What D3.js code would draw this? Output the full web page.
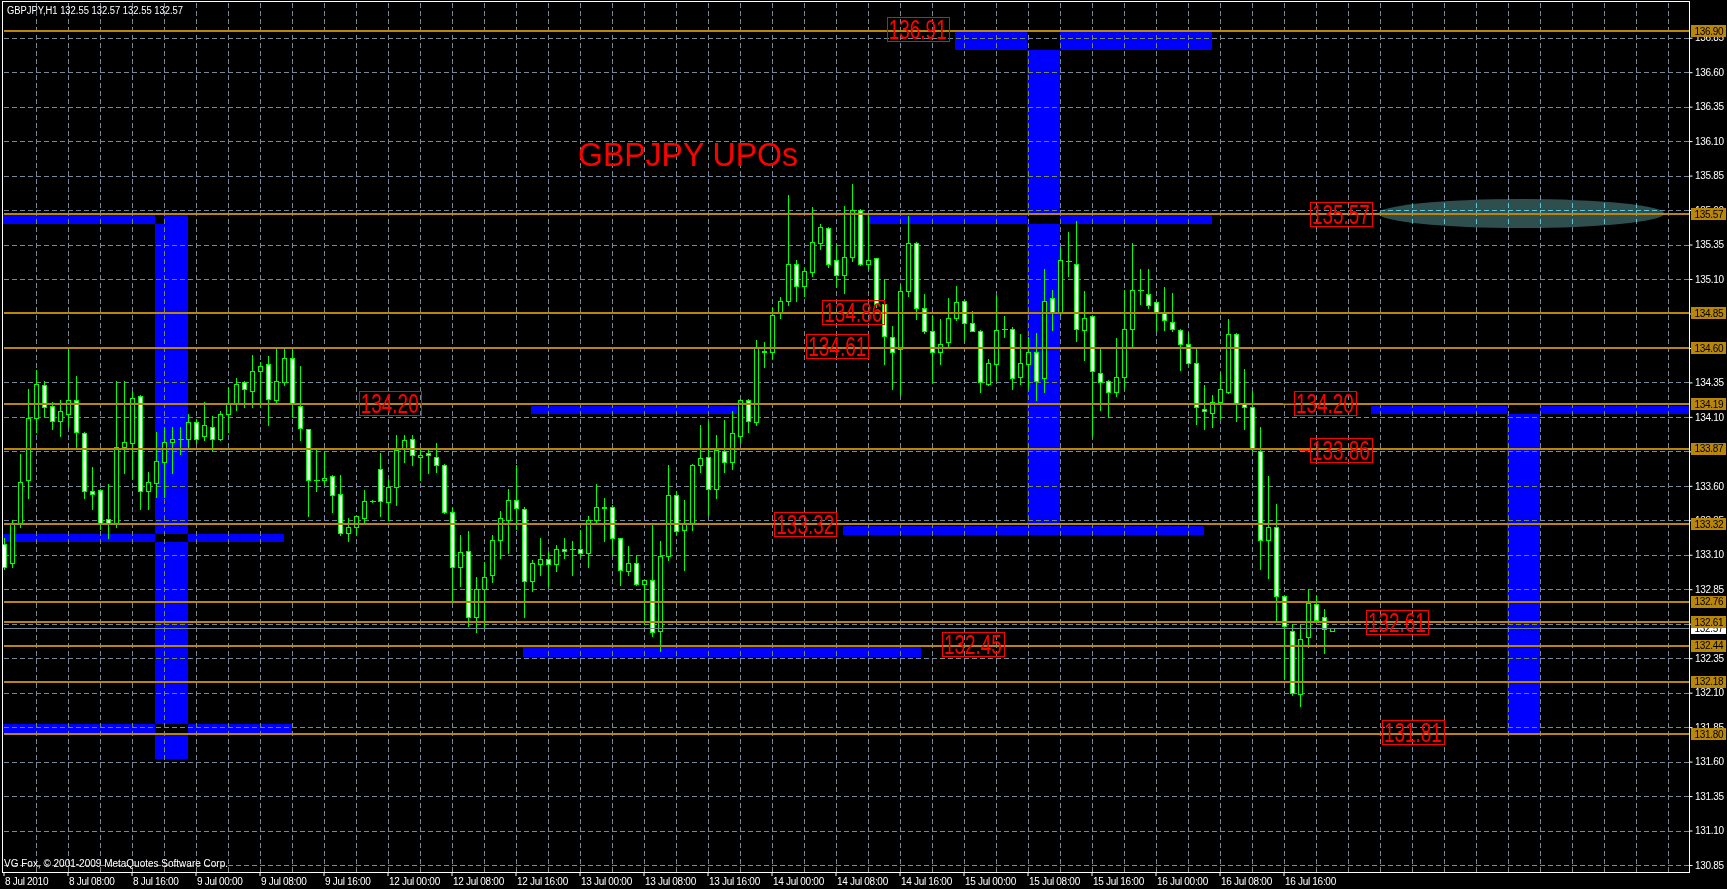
<!DOCTYPE html>
<html><head><meta charset="utf-8">
<script src="https://cdn.jsdelivr.net/npm/d3@7"></script>
<style>
html,body{margin:0;padding:0;background:#000;overflow:hidden}
svg{display:block}
</style></head><body>
<svg id="chart" width="1727" height="889"></svg>
<script>
// ---------------- DATA ----------------
const headerText = "GBPJPY,H1  132.55 132.57 132.55 132.57";
const titleText = "GBPJPY UPOs";
const copyrightText = "VG Fox, \u00A9 2001-2009 MetaQuotes Software Corp.";

// hourly candles, 8 Jul 2010 00:00 .. 16 Jul 2010 22:00 (weekend skipped)
const open = [133.18,133.04,133.33,133.64,134.09,134.33,134.18,134.07,134.12,134.22,
133.98,133.56,133.57,133.36,133.33,133.88,133.91,134.25,133.56,133.62,
133.77,133.92,133.94,133.94,134.06,133.96,134.03,133.94,134.12,134.20,
134.35,134.29,134.43,134.48,134.22,134.35,134.53,134.18,134.01,133.64,
133.64,133.67,133.54,133.26,133.30,133.37,133.49,133.72,133.48,133.59,
133.87,133.94,133.81,133.84,133.81,133.75,133.41,133.01,133.13,132.65,
132.85,132.95,133.21,133.35,133.50,133.43,132.91,133.03,133.07,133.03,
133.14,133.14,133.14,133.11,133.35,133.44,133.45,133.22,132.98,133.04,
132.89,132.92,132.55,133.09,133.53,133.28,133.32,133.75,133.81,133.58,
133.85,133.77,133.96,134.22,134.06,134.57,134.57,134.86,134.94,135.21,
135.05,135.15,135.36,135.47,135.24,135.13,135.26,135.60,135.21,135.25,
134.92,134.68,134.59,135.01,135.36,134.89,134.72,134.57,134.64,134.82,
134.94,134.78,134.72,134.34,134.48,134.74,134.74,134.39,134.48,134.57,
134.38,134.96,134.86,135.23,135.21,134.73,134.83,134.42,134.36,134.28,
134.39,134.74,135.02,134.99,134.93,134.86,134.79,134.73,134.63,134.49,
134.16,134.13,134.21,134.28,134.70,134.20,134.17,133.85,133.21,133.30,
132.80,132.55,132.09,132.50,132.74,132.65,132.55];
const high = [133.22,133.35,133.83,134.30,134.44,134.36,134.21,134.22,134.59,134.40,
133.99,133.74,133.58,133.61,134.36,134.36,134.28,134.26,133.70,133.99,
134.03,134.03,134.03,134.12,134.08,134.21,134.11,134.14,134.32,134.38,
134.36,134.55,134.50,134.54,134.59,134.60,134.59,134.47,134.01,133.86,
133.85,133.68,133.68,133.37,133.38,133.57,133.50,133.84,133.64,133.97,
133.97,133.97,133.86,133.86,133.91,133.76,133.44,133.24,133.27,132.94,
133.05,133.24,133.42,133.58,133.75,133.45,133.06,133.22,133.12,133.17,
133.22,133.20,133.28,133.38,133.61,133.51,133.46,133.22,133.16,133.09,
132.92,133.32,133.20,133.75,133.56,133.50,133.76,134.04,134.06,133.97,
134.08,134.14,134.23,134.23,134.66,134.64,134.89,134.97,135.71,135.24,
135.18,135.62,135.50,135.48,135.35,135.63,135.79,135.61,135.56,135.25,
135.10,134.76,135.06,135.56,135.37,134.99,134.84,134.81,134.96,135.05,
134.95,134.87,134.73,134.52,134.98,134.83,134.75,134.70,134.68,134.71,
135.17,135.02,135.33,135.44,135.52,135.01,134.84,134.59,134.37,134.67,
135.02,135.36,135.17,135.17,134.94,135.04,135.00,134.74,134.71,134.59,
134.33,134.26,134.42,134.81,134.71,134.45,134.28,134.03,133.67,133.47,
132.81,132.60,132.59,132.85,132.80,132.71,132.57];
const low = [133.00,133.01,133.30,133.51,133.99,134.11,134.01,133.96,134.03,133.87,
133.51,133.43,133.29,133.22,133.30,133.69,133.65,133.43,133.43,133.52,
133.52,133.69,133.83,133.87,133.91,133.93,133.85,133.93,133.99,134.15,
134.17,134.17,134.18,134.04,134.20,134.33,134.11,133.93,133.38,133.56,
133.61,133.41,133.24,133.20,133.24,133.33,133.48,133.38,133.35,133.46,
133.77,133.75,133.64,133.69,133.70,133.40,132.77,132.87,132.58,132.54,
132.57,132.90,133.08,133.11,133.29,132.65,132.84,132.95,132.87,132.98,
133.08,132.95,133.09,133.01,133.33,133.20,133.10,132.88,132.95,132.88,
132.60,132.51,132.40,133.06,133.25,132.99,133.28,133.70,133.39,133.51,
133.70,133.72,133.92,133.99,134.04,134.46,134.53,134.82,134.91,134.94,
134.98,135.12,135.32,135.19,135.04,135.00,135.23,135.20,135.17,134.90,
134.48,134.30,134.26,134.98,134.81,134.71,134.35,134.48,134.61,134.80,
134.65,134.72,134.28,134.33,134.37,134.68,134.30,134.34,134.30,134.22,
134.28,134.73,134.84,135.12,134.65,134.51,133.96,134.15,134.10,134.25,
134.30,134.61,134.92,134.89,134.73,134.73,134.72,134.44,134.48,134.05,
134.01,134.03,134.09,134.27,134.07,134.01,133.86,133.00,132.93,132.63,
132.20,132.08,132.00,132.43,132.62,132.39,132.55];
const close = [133.01,133.33,133.63,134.09,134.34,134.17,134.07,134.14,134.22,133.99,
133.56,133.54,133.33,133.33,133.88,133.92,134.24,133.56,133.63,133.78,
133.92,133.94,133.94,134.06,133.94,134.04,133.94,134.12,134.20,134.34,
134.30,134.43,134.47,134.23,134.36,134.53,134.19,134.02,133.64,133.64,
133.66,133.53,133.26,133.30,133.38,133.49,133.49,133.49,133.59,133.86,
133.93,133.82,133.82,133.82,133.75,133.41,133.01,133.12,132.65,132.85,
132.94,133.21,133.37,133.50,133.44,132.91,133.04,133.07,133.03,133.14,
133.13,133.14,133.11,133.35,133.45,133.45,133.22,132.99,133.04,132.89,
132.92,132.54,133.09,133.53,133.27,133.32,133.75,133.80,133.58,133.86,
133.77,133.98,134.22,134.07,134.60,134.58,134.84,134.94,135.21,135.05,
135.16,135.37,135.48,135.21,135.13,135.26,135.60,135.21,135.24,134.92,
134.69,134.57,135.01,135.36,134.89,134.72,134.57,134.63,134.82,134.93,
134.78,134.72,134.35,134.49,134.73,134.74,134.38,134.49,134.57,134.36,
134.94,134.86,135.24,135.23,134.74,134.82,134.43,134.35,134.28,134.39,
134.74,135.02,135.02,134.91,134.86,134.80,134.74,134.63,134.49,134.17,
134.14,134.21,134.30,134.70,134.20,134.17,133.87,133.21,133.30,132.80,
132.58,132.10,132.49,132.75,132.63,132.56,132.57];

// time axis
const timeTickBars = [0,8,16,24,32,40,48,56,64,72,80,88,96,104,112,120,128,136,144,152,160];
const timeTickLabels = ["8 Jul 2010","8 Jul 08:00","8 Jul 16:00","9 Jul 00:00","9 Jul 08:00","9 Jul 16:00",
"12 Jul 00:00","12 Jul 08:00","12 Jul 16:00","13 Jul 00:00","13 Jul 08:00","13 Jul 16:00",
"14 Jul 00:00","14 Jul 08:00","14 Jul 16:00","15 Jul 00:00","15 Jul 08:00","15 Jul 16:00",
"16 Jul 00:00","16 Jul 08:00","16 Jul 16:00"];

// price axis
const priceTicks = [130.85,131.10,131.35,131.60,131.85,132.10,132.35,132.60,132.85,133.10,133.35,133.60,
133.85,134.10,134.35,134.60,134.85,135.10,135.35,135.60,135.85,136.10,136.35,136.60,136.85];

// horizontal levels
const levelPrices = [136.90,135.57,134.85,134.60,134.19,133.87,133.32,132.76,132.61,132.44,132.18,131.80];
const levelLabels = ["136.90","135.57","134.85","134.60","134.19","133.87","133.32","132.76","132.61","132.44","132.18","131.80"];
const bidPrice = 132.57;
const bidLabel = "132.57";

// UPO zones (bar from, bar to, price top, price bottom)
const zoneFrom   = [0, 19, 0, 0, 66, 65, 119, 128, 108, 105, 171, 188];
const zoneTo     = [20, 23, 35, 36, 91.7, 114.7, 151, 132, 151, 150, 211, 192];
const zoneTop    = [135.57,135.57,133.25,131.87,134.18,132.43,136.90,136.90,135.57,133.31,134.18,134.18];
const zoneBottom = [135.50,131.62,133.19,131.80,134.12,132.36,136.76,133.32,135.50,133.24,134.12,131.80];

// ellipse marker
const ellipseBars = [171.9, 207.6];
const ellipsePrices = [135.68, 135.47];

// price markers
const markerText  = ["136.91","134.20","134.86","134.61","133.32","132.45","135.57","134.20","133.86","132.61","131.81"];
const markerPrice = [136.91,134.20,134.86,134.61,133.32,132.45,135.57,134.20,133.86,132.61,131.81];
const markerBar   = [110.4,44.4,102.35,100.35,96.35,117.3,163.3,161.3,163.3,170.3,172.3];
const markerStub  = [0,0,0,0,0,0,0,1,1,0,0];

// ---------------- DRAW ----------------
const W = 1727, H = 889;
const plot = {left: 2.5, right: 1689.5, top: 1.5, bottom: 872.5};
const FONT = "'Liberation Sans', Arial, sans-serif";
const GRID = "#778899", LEVEL = "#B8860B", BULL = "#00FF00";

const barX = d3.scaleLinear().domain([0, 1]).range([3.5, 11.5]);
const priceY = d3.scaleLinear().domain([130.85, 136.85]).range([865, 37.7]);
const crisp = v => Math.round(v) + 0.5;

const svg = d3.select("#chart");
svg.append("rect").attr("width", W).attr("height", H).attr("fill", "#000");

// grid
const gridBars = d3.range(4, 211, 4).filter(b => barX(b) < plot.right - 2);
function drawGrid(g, color) {
  g.attr("shape-rendering", "crispEdges");
  g.append("g").selectAll("line").data(priceTicks).join("line")
    .attr("x1", plot.left + 1).attr("x2", plot.right)
    .attr("y1", d => crisp(priceY(d))).attr("y2", d => crisp(priceY(d)))
    .attr("stroke", color).attr("stroke-dasharray", "5,3");
  g.append("g").selectAll("line").data(gridBars).join("line")
    .attr("x1", d => crisp(barX(d))).attr("x2", d => crisp(barX(d)))
    .attr("y1", plot.top + 1).attr("y2", plot.bottom)
    .attr("stroke", color).attr("stroke-dasharray", "5,3");
}
drawGrid(svg.append("g"), GRID);

// zones (xor-like overlap)
const zoneIdx = d3.range(zoneFrom.length);
svg.append("g").attr("shape-rendering", "crispEdges")
  .selectAll("rect").data(zoneIdx).join("rect")
  .attr("x", i => Math.max(Math.round(barX(zoneFrom[i])) - 1, 3))
  .attr("width", i => Math.min(Math.round(barX(zoneTo[i])), plot.right - 0.5) - Math.max(Math.round(barX(zoneFrom[i])) - 1, 3))
  .attr("y", i => Math.round(priceY(zoneTop[i])))
  .attr("height", i => Math.round(priceY(zoneBottom[i])) - Math.round(priceY(zoneTop[i])))
  .attr("fill", "#0000FF")
  .style("mix-blend-mode", "difference");

// ellipse
const ex1 = barX(ellipseBars[0]), ex2 = barX(ellipseBars[1]);
const ey1 = priceY(ellipsePrices[0]), ey2 = priceY(ellipsePrices[1]);
const ell = {cx: (ex1 + ex2) / 2, cy: (ey1 + ey2) / 2, rx: (ex2 - ex1) / 2, ry: (ey2 - ey1) / 2};
svg.append("ellipse").attr("cx", ell.cx).attr("cy", ell.cy).attr("rx", ell.rx).attr("ry", ell.ry)
  .attr("fill", "#2F4F4F");
const defs = svg.append("defs");
defs.append("clipPath").attr("id", "ellClip").append("ellipse")
  .attr("cx", ell.cx).attr("cy", ell.cy).attr("rx", ell.rx).attr("ry", ell.ry);
drawGrid(svg.append("g").attr("clip-path", "url(#ellClip)"), "#5FC8D8");

// candles
const idx = d3.range(open.length);
const cg = svg.append("g").attr("shape-rendering", "crispEdges");
cg.selectAll("line.wick").data(idx).join("line").attr("class", "wick")
  .attr("x1", i => crisp(barX(i))).attr("x2", i => crisp(barX(i)))
  .attr("y1", i => Math.round(priceY(high[i]))).attr("y2", i => Math.round(priceY(low[i])) + 1)
  .attr("stroke", BULL);
cg.selectAll("rect.body").data(idx.filter(i => open[i] !== close[i])).join("rect").attr("class", "body")
  .attr("x", i => crisp(barX(i)) - 2)
  .attr("width", 4)
  .attr("y", i => crisp(priceY(Math.max(open[i], close[i]))))
  .attr("height", i => Math.max(1, Math.round(priceY(Math.min(open[i], close[i]))) - Math.round(priceY(Math.max(open[i], close[i])))))
  .attr("fill", i => close[i] > open[i] ? "#000" : "#FFF")
  .attr("stroke", BULL);
cg.selectAll("line.doji").data(idx.filter(i => open[i] === close[i])).join("line").attr("class", "doji")
  .attr("x1", i => crisp(barX(i)) - 2.5).attr("x2", i => crisp(barX(i)) + 3)
  .attr("y1", i => crisp(priceY(close[i]))).attr("y2", i => crisp(priceY(close[i])))
  .attr("stroke", BULL);

// level lines
svg.append("g").attr("shape-rendering", "crispEdges")
  .selectAll("line").data(levelPrices).join("line")
  .attr("x1", plot.left + 1).attr("x2", plot.right)
  .attr("y1", d => Math.round(priceY(d))).attr("y2", d => Math.round(priceY(d)))
  .attr("stroke", LEVEL).attr("stroke-width", 2);

// bid line
svg.append("line").attr("shape-rendering", "crispEdges")
  .attr("x1", plot.left + 1).attr("x2", plot.right)
  .attr("y1", crisp(priceY(bidPrice))).attr("y2", crisp(priceY(bidPrice)))
  .attr("stroke", GRID);

// price markers
const mIdx = d3.range(markerText.length);
const mg = svg.append("g");
mg.selectAll("rect").data(mIdx).join("rect")
  .attr("x", i => crisp(barX(markerBar[i])))
  .attr("y", i => crisp(priceY(markerPrice[i]) - 12.2))
  .attr("width", 62).attr("height", 24)
  .attr("fill", "none").attr("stroke", "#FF0000").attr("shape-rendering", "crispEdges");
mg.selectAll("line").data(mIdx.filter(i => markerStub[i])).join("line")
  .attr("x1", i => barX(markerBar[i]) - 11).attr("x2", i => barX(markerBar[i]) + 2)
  .attr("y1", i => crisp(priceY(markerPrice[i]))).attr("y2", i => crisp(priceY(markerPrice[i])))
  .attr("stroke", "#FF0000").attr("shape-rendering", "crispEdges");
mg.selectAll("text").data(mIdx).join("text")
  .attr("x", i => barX(markerBar[i]) + 2)
  .attr("y", i => priceY(markerPrice[i]) + 9.8)
  .attr("font-family", FONT).attr("font-size", 27)
  .attr("textLength", 58).attr("lengthAdjust", "spacingAndGlyphs")
  .attr("fill", "#FF0000")
  .text(i => markerText[i]);

// title
svg.append("text").attr("x", 578).attr("y", 166)
  .attr("font-family", FONT).attr("font-size", 33)
  .attr("textLength", 220).attr("lengthAdjust", "spacingAndGlyphs")
  .attr("fill", "#FF0000").text(titleText);

// frame
svg.append("rect").attr("x", plot.left).attr("y", plot.top)
  .attr("width", plot.right - plot.left).attr("height", plot.bottom - plot.top)
  .attr("fill", "none").attr("stroke", "#FFF").attr("shape-rendering", "crispEdges");

// right axis
const yAxis = d3.axisRight(priceY).tickValues(priceTicks).tickFormat(d3.format(".2f")).tickSize(3).tickPadding(3);
const yAxisG = svg.append("g").attr("transform", `translate(${plot.right},0)`).call(yAxis)
  .attr("font-family", FONT).attr("font-size", 10);
yAxisG.select(".domain").remove();
yAxisG.selectAll("line").attr("stroke", "#FFF");
yAxisG.selectAll("text").attr("fill", "#FFF").attr("letter-spacing", "-0.3px").attr("x", 5.5);

// bottom axis
const xAxis = d3.axisBottom(barX).tickValues(timeTickBars).tickFormat((d, i) => timeTickLabels[i]).tickSize(4);
const xAxisG = svg.append("g").attr("transform", `translate(0,${plot.bottom - 0.5})`).call(xAxis)
  .attr("font-family", FONT).attr("font-size", 10);
xAxisG.select(".domain").remove();
xAxisG.selectAll("line").attr("stroke", "#FFF");
xAxisG.selectAll("text").attr("fill", "#FFF").attr("text-anchor", "start")
  .attr("x", 1).attr("y", 6).attr("dy", "0.71em").attr("letter-spacing", "-0.3px");

// bid label box
const bidG = svg.append("g");
bidG.append("rect").attr("x", plot.right + 1.5).attr("y", Math.round(priceY(bidPrice)) - 5)
  .attr("width", 35).attr("height", 11).attr("fill", "#FFF");
bidG.append("text").attr("x", plot.right + 5).attr("y", priceY(bidPrice) + 4)
  .attr("font-family", FONT).attr("font-size", 10).attr("letter-spacing", "-0.3px")
  .attr("fill", "#000").text(bidLabel);

// level label boxes
const lIdx = d3.range(levelPrices.length);
const lg = svg.append("g");
lg.selectAll("rect").data(lIdx).join("rect")
  .attr("x", plot.right + 1.5).attr("y", i => Math.round(priceY(levelPrices[i])) - 6)
  .attr("width", 35).attr("height", 12).attr("fill", LEVEL);
lg.selectAll("text").data(lIdx).join("text")
  .attr("x", plot.right + 5).attr("y", i => priceY(levelPrices[i]) + 3.7)
  .attr("font-family", FONT).attr("font-size", 10).attr("letter-spacing", "-0.3px")
  .attr("fill", "#000").text(i => levelLabels[i]);

// header & copyright
svg.append("text").attr("x", 7).attr("y", 13.5)
  .attr("font-family", FONT).attr("font-size", 10)
  .attr("textLength", 176).attr("lengthAdjust", "spacingAndGlyphs")
  .attr("fill", "#FFF").text(headerText);
svg.append("text").attr("x", 4).attr("y", 867)
  .attr("font-family", FONT).attr("font-size", 10)
  .attr("textLength", 224).attr("lengthAdjust", "spacingAndGlyphs")
  .attr("fill", "#FFF").text(copyrightText);
</script>
</body></html>
